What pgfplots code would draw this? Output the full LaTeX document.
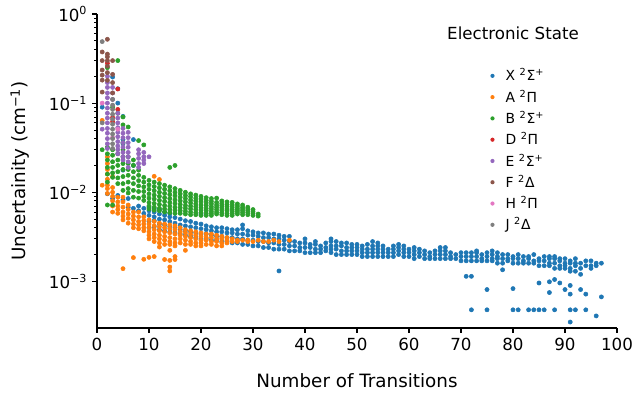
\documentclass[border=0pt]{standalone}
\usepackage{fontspec}
\setmainfont{DejaVu Sans}
\usepackage{pgfplots}
\pgfplotsset{compat=1.18}
\definecolor{cX}{HTML}{1F77B4}
\definecolor{cA}{HTML}{FF7F0E}
\definecolor{cB}{HTML}{2CA02C}
\definecolor{cD}{HTML}{D62728}
\definecolor{cE}{HTML}{9467BD}
\definecolor{cF}{HTML}{8C564B}
\definecolor{cH}{HTML}{E377C2}
\definecolor{cJ}{HTML}{7F7F7F}
\begin{document}
\begin{tikzpicture}
\begin{axis}[
 at={(0,0)}, anchor=south west,
 scale only axis, width=374.4pt, height=226.1pt,
 xmin=0, xmax=100, ymin=3e-4, ymax=1, ymode=log,
 axis x line*=bottom, axis y line*=left,
 axis line style={line width=0.8pt},
 tick align=outside,
 major tick length=3.5pt, minor tick length=2pt,
 major tick style={black, line width=0.8pt},
 minor tick style={black, line width=0.6pt},
 xtick={0,10,...,100},
 xticklabels={0,10,20,30,40,50,60,70,80,90,100},
 ytick={1e-3,1e-2,1e-1,1},
 yticklabels={10\textsuperscript{−3},10\textsuperscript{−2},10\textsuperscript{−1},10\textsuperscript{0}},
 tick label style={font=\fontsize{12}{14}\selectfont},
 xlabel={Number of Transitions},
 ylabel={Uncertainity (cm\textsuperscript{−1})},
 label style={font=\fontsize{13.2}{15}\selectfont},
 xlabel style={at={(axis description cs:0.5,-0.169)}, anchor=center},
 ylabel style={at={(axis description cs:-0.148,0.5)}, anchor=center},
 legend style={at={(axis description cs:0.7444,0.84)}, anchor=north west, draw=none, fill=none,
   font=\fontsize{10}{12}\selectfont, row sep=3pt, nodes={inner sep=1pt}},
 legend cell align=left,
 legend image code/.code={\path[draw=none,fill=none] (0cm,-0.05cm) rectangle (0.4cm,0.05cm);
   \fill[#1,mark=none,draw=none] (0.1cm,0cm) circle[radius=1.5pt];},
 every axis plot/.append style={only marks, mark=*, mark size=1.5pt},
]
\addplot[cX] table[row sep=\\] {x y\\
1 0.090\\3 0.196\\4 0.145\\4 0.100\\5 0.071\\5 0.039\\5 0.035\\7 0.039\\5 0.0177\\7 0.020\\2 0.0096\\3 0.0085\\4 0.0092\\5 0.0082\\6 0.0068\\6 0.0085\\7 0.0066\\8 0.0070\\8 0.0062\\9 0.0066\\9 0.0058\\
10 0.0040\\10 0.0047\\10 0.0055\\10 0.0062\\10 0.0068\\
11 0.0041\\11 0.0048\\11 0.0053\\11 0.0060\\11 0.0066\\
12 0.0038\\12 0.0044\\12 0.0050\\12 0.0057\\12 0.0064\\
13 0.0037\\13 0.0043\\13 0.0049\\13 0.0055\\13 0.0060\\
14 0.0036\\14 0.0041\\14 0.0047\\14 0.0053\\14 0.0058\\
15 0.0035\\15 0.0040\\15 0.0045\\15 0.0052\\
16 0.0034\\16 0.0038\\16 0.0043\\16 0.0050\\
17 0.0033\\17 0.0037\\17 0.0042\\17 0.0048\\
18 0.0032\\18 0.0036\\18 0.0041\\18 0.0047\\
19 0.0031\\19 0.0035\\19 0.0040\\19 0.0045\\
20 0.0030\\20 0.0034\\20 0.0039\\20 0.0044\\20 0.0057\\
21 0.0030\\21 0.0034\\21 0.0038\\21 0.0042\\
22 0.0029\\22 0.0033\\22 0.0037\\22 0.0041\\
23 0.0029\\23 0.0032\\23 0.0036\\23 0.0040\\
24 0.0028\\24 0.0032\\24 0.0036\\24 0.0040\\
25 0.0028\\25 0.0031\\25 0.0035\\25 0.0039\\
26 0.0027\\26 0.0031\\26 0.0035\\26 0.0038\\
27 0.0027\\27 0.0030\\27 0.0034\\27 0.0038\\
28 0.0026\\28 0.0030\\28 0.0034\\28 0.0039\\28 0.0043\\
29 0.0026\\29 0.0029\\29 0.0033\\29 0.0037\\
30 0.0025\\30 0.0029\\30 0.0033\\30 0.0036\\
31 0.0025\\31 0.0028\\31 0.0032\\31 0.0035\\
32 0.0024\\32 0.0028\\32 0.0031\\32 0.0035\\
33 0.0024\\33 0.0027\\33 0.0031\\33 0.0034\\
34 0.0023\\34 0.0027\\34 0.0030\\34 0.0034\\
35 0.0023\\35 0.0026\\35 0.0030\\35 0.0033\\35 0.00131\\
36 0.0023\\36 0.0026\\36 0.0029\\36 0.0032\\
37 0.0022\\37 0.0025\\37 0.0028\\37 0.0032\\
38 0.0022\\38 0.0025\\38 0.0028\\
39 0.0022\\39 0.0024\\39 0.0027\\
40 0.0021\\40 0.0024\\40 0.0027\\40 0.0030\\
41 0.0021\\41 0.0024\\41 0.0026\\
42 0.0021\\42 0.0023\\42 0.0026\\42 0.0028\\
43 0.0021\\43 0.0023\\43 0.0025\\
44 0.0022\\44 0.0024\\44 0.0027\\
45 0.0021\\45 0.0023\\45 0.0025\\45 0.0028\\45 0.0030\\
46 0.0020\\46 0.0023\\46 0.0025\\46 0.0028\\
47 0.0020\\47 0.0022\\47 0.0025\\47 0.0027\\
48 0.0020\\48 0.0022\\48 0.0024\\48 0.0027\\
49 0.0020\\49 0.0022\\49 0.0024\\49 0.0026\\
50 0.0020\\50 0.0022\\50 0.0024\\50 0.0026\\
51 0.0019\\51 0.0021\\51 0.0023\\51 0.0025\\
52 0.0019\\52 0.0021\\52 0.0023\\52 0.0026\\
53 0.0019\\53 0.0021\\53 0.0023\\53 0.0025\\53 0.0028\\
54 0.0019\\54 0.0021\\54 0.0023\\54 0.0025\\54 0.0027\\
55 0.0019\\55 0.0021\\55 0.0023\\55 0.0025\\
56 0.0019\\56 0.0021\\56 0.0023\\
57 0.0019\\57 0.0021\\57 0.0023\\57 0.0025\\
58 0.0020\\58 0.0022\\58 0.0024\\58 0.0026\\
59 0.0019\\59 0.0021\\59 0.0023\\59 0.0025\\
60 0.0019\\60 0.0021\\60 0.0023\\
61 0.0018\\61 0.0020\\61 0.0022\\61 0.0024\\
62 0.0019\\62 0.0021\\62 0.0023\\
63 0.0018\\63 0.0020\\63 0.0022\\
64 0.0018\\64 0.0019\\64 0.0021\\
65 0.0018\\65 0.0020\\65 0.0022\\
66 0.0018\\66 0.0020\\66 0.0022\\66 0.0024\\
67 0.0018\\67 0.0020\\67 0.0022\\67 0.0024\\
68 0.0018\\68 0.0019\\68 0.0021\\
69 0.0018\\69 0.0020\\
70 0.0017\\70 0.0019\\70 0.0021\\
71 0.0017\\71 0.0019\\71 0.0021\\71 0.00114\\
72 0.0017\\72 0.0019\\72 0.0021\\72 0.00114\\72 0.00048\\
73 0.0017\\73 0.0019\\73 0.0021\\73 0.0022\\
74 0.0017\\74 0.0018\\74 0.0020\\
75 0.0017\\75 0.0019\\75 0.0021\\75 0.00081\\75 0.00048\\
76 0.0017\\76 0.0018\\76 0.0020\\76 0.0022\\
77 0.0016\\77 0.0018\\77 0.0019\\77 0.0021\\
78 0.0016\\78 0.0018\\78 0.0020\\78 0.00135\\
79 0.0017\\79 0.0018\\79 0.0020\\
80 0.0016\\80 0.0018\\80 0.0019\\80 0.00083\\80 0.00048\\
81 0.0016\\81 0.0018\\81 0.0020\\81 0.00048\\
82 0.0016\\82 0.0017\\82 0.0019\\
83 0.0016\\83 0.0018\\83 0.0019\\83 0.00048\\
84 0.0016\\84 0.0017\\84 0.0020\\84 0.00048\\
85 0.0015\\85 0.0017\\85 0.0018\\85 0.00096\\85 0.00048\\
86 0.0015\\86 0.0017\\86 0.0019\\86 0.00048\\
87 0.0015\\87 0.0016\\87 0.0018\\87 0.0019\\87 0.00099\\87 0.00075\\
88 0.0014\\88 0.0016\\88 0.0018\\88 0.0019\\88 0.00105\\88 0.00048\\
89 0.0014\\89 0.0015\\89 0.0017\\89 0.0018\\89 0.00096\\
90 0.0014\\90 0.0015\\90 0.0016\\90 0.0018\\90 0.00081\\
91 0.0013\\91 0.0014\\91 0.0016\\91 0.0017\\91 0.00090\\91 0.00072\\91 0.00048\\91 0.00035\\
92 0.0013\\92 0.0015\\92 0.0016\\92 0.0018\\92 0.00048\\
93 0.0012\\93 0.0014\\93 0.0016\\93 0.00081\\
94 0.0015\\94 0.0017\\94 0.00072\\94 0.00048\\
95 0.0014\\95 0.0015\\95 0.0017\\
96 0.0015\\96 0.0016\\96 0.00041\\
97 0.0016\\97 0.00067\\
};
\addlegendentry{X \textsuperscript{2}Σ\textsuperscript{+}}
\addplot[cA] table[row sep=\\] {x y\\
1 0.064\\1 0.012\\
2 0.025\\2 0.021\\2 0.018\\2 0.016\\2 0.014\\2 0.012\\2 0.011\\2 0.0097\\
3 0.015\\3 0.0113\\3 0.0100\\3 0.0090\\3 0.0080\\3 0.0070\\3 0.0060\\
4 0.0088\\4 0.0078\\4 0.0070\\4 0.0064\\4 0.0058\\
5 0.0088\\5 0.0078\\5 0.0068\\5 0.0060\\5 0.0054\\5 0.0049\\5 0.00139\\
6 0.0072\\6 0.0064\\6 0.0057\\6 0.0051\\6 0.0045\\
7 0.0060\\7 0.0054\\7 0.0049\\7 0.0044\\7 0.0040\\7 0.00185\\
8 0.0060\\8 0.0053\\8 0.0047\\8 0.0043\\8 0.0039\\
9 0.0053\\9 0.0048\\9 0.0044\\9 0.0040\\9 0.0037\\9 0.00177\\
10 0.0049\\10 0.0044\\10 0.0040\\10 0.0036\\10 0.0033\\10 0.0030\\10 0.00186\\
11 0.0151\\11 0.0047\\11 0.0042\\11 0.0038\\11 0.0034\\11 0.0031\\11 0.0028\\11 0.0019\\
12 0.0139\\12 0.0045\\12 0.0041\\12 0.0037\\12 0.0033\\12 0.0030\\12 0.0027\\12 0.00243\\
13 0.0044\\13 0.0040\\13 0.0036\\13 0.0032\\13 0.0029\\13 0.0026\\13 0.00176\\
14 0.0043\\14 0.0039\\14 0.0035\\14 0.0031\\14 0.0028\\14 0.0026\\14 0.00223\\14 0.00172\\14 0.00145\\14 0.00131\\
15 0.0042\\15 0.0038\\15 0.0034\\15 0.0030\\15 0.0027\\15 0.0025\\15 0.0019\\15 0.00176\\
16 0.0040\\16 0.0036\\16 0.0033\\16 0.0030\\16 0.0027\\
17 0.0038\\17 0.0035\\17 0.0032\\17 0.0029\\17 0.0026\\17 0.00223\\
18 0.0037\\18 0.0034\\18 0.0031\\18 0.0028\\18 0.0026\\
19 0.0036\\19 0.0033\\19 0.0030\\19 0.0027\\19 0.0025\\
20 0.0035\\20 0.0032\\20 0.0029\\20 0.0027\\20 0.0025\\
21 0.0034\\21 0.0031\\21 0.0029\\21 0.0026\\
22 0.0034\\22 0.0031\\22 0.0028\\22 0.0026\\
23 0.0033\\23 0.0030\\23 0.0028\\23 0.0025\\
24 0.0032\\24 0.0030\\24 0.0027\\24 0.0025\\
25 0.0031\\25 0.0029\\25 0.0027\\
26 0.0030\\26 0.0028\\27 0.0029\\27 0.0028\\28 0.0029\\29 0.0029\\29 0.0028\\30 0.0028\\31 0.0029\\32 0.0028\\33 0.0028\\34 0.0029\\35 0.0028\\37 0.0029\\
};
\addlegendentry{A \textsuperscript{2}Π}
\addplot[cB] table[row sep=\\] {x y\\
1 0.030\\
2 0.25\\2 0.032\\2 0.027\\2 0.023\\2 0.019\\2 0.016\\2 0.013\\2 0.0072\\
3 0.090\\3 0.030\\3 0.026\\3 0.022\\3 0.019\\3 0.0165\\3 0.0147\\3 0.0072\\
4 0.30\\4 0.077\\4 0.027\\4 0.023\\4 0.020\\4 0.017\\4 0.0145\\4 0.0125\\
5 0.070\\5 0.057\\5 0.036\\5 0.030\\5 0.025\\5 0.021\\5 0.018\\5 0.015\\5 0.0125\\5 0.0105\\
6 0.054\\6 0.025\\6 0.021\\6 0.018\\6 0.0155\\6 0.013\\6 0.011\\6 0.0098\\
7 0.023\\7 0.020\\7 0.017\\7 0.0145\\7 0.0125\\7 0.0105\\7 0.0088\\
8 0.038\\8 0.0177\\8 0.0155\\8 0.0135\\8 0.0118\\8 0.0102\\8 0.0086\\
9 0.034\\9 0.0147\\9 0.013\\9 0.0115\\9 0.0102\\9 0.0090\\9 0.0081\\
10 0.0136\\10 0.0121\\10 0.0108\\10 0.0096\\10 0.0086\\10 0.0077\\10 0.0070\\10 0.0065\\
11 0.0130\\11 0.0116\\11 0.0104\\11 0.0093\\11 0.0084\\11 0.0075\\11 0.0068\\11 0.0063\\
12 0.0125\\12 0.0112\\12 0.0100\\12 0.0090\\12 0.0081\\12 0.0073\\12 0.0066\\12 0.0062\\
13 0.0120\\13 0.0108\\13 0.0097\\13 0.0087\\13 0.0079\\13 0.0071\\13 0.0065\\13 0.0060\\
14 0.019\\14 0.0115\\14 0.0104\\14 0.0094\\14 0.0085\\14 0.0077\\14 0.0070\\14 0.0064\\14 0.0059\\
15 0.020\\15 0.0110\\15 0.0100\\15 0.0091\\15 0.0082\\15 0.0075\\15 0.0068\\15 0.0063\\15 0.0058\\
16 0.0105\\16 0.0096\\16 0.0088\\16 0.0080\\16 0.0073\\16 0.0067\\16 0.0062\\16 0.0058\\
17 0.0100\\17 0.0092\\17 0.0085\\17 0.0078\\17 0.0071\\17 0.0066\\17 0.0061\\17 0.0057\\
18 0.0096\\18 0.0089\\18 0.0082\\18 0.0076\\18 0.0070\\18 0.0065\\18 0.0060\\18 0.0056\\
19 0.0093\\19 0.0086\\19 0.0080\\19 0.0074\\19 0.0069\\19 0.0064\\19 0.0059\\19 0.0056\\
20 0.0090\\20 0.0084\\20 0.0078\\20 0.0072\\20 0.0067\\20 0.0063\\20 0.0059\\20 0.0055\\
21 0.0087\\21 0.0081\\21 0.0076\\21 0.0071\\21 0.0066\\21 0.0062\\21 0.0058\\21 0.0055\\
22 0.0085\\22 0.0079\\22 0.0074\\22 0.0069\\22 0.0065\\22 0.0061\\22 0.0058\\22 0.0055\\
23 0.0086\\23 0.0077\\23 0.0072\\23 0.0068\\23 0.0064\\23 0.0060\\23 0.0057\\
24 0.0080\\24 0.0075\\24 0.0071\\24 0.0067\\24 0.0063\\24 0.0059\\24 0.0056\\
25 0.0078\\25 0.0073\\25 0.0069\\25 0.0065\\25 0.0062\\25 0.0058\\25 0.0055\\
26 0.0077\\26 0.0072\\26 0.0068\\26 0.0064\\26 0.0061\\26 0.0058\\26 0.0055\\
27 0.0074\\27 0.0070\\27 0.0066\\27 0.0063\\27 0.0060\\27 0.0057\\
28 0.0072\\28 0.0068\\28 0.0065\\28 0.0062\\28 0.0059\\28 0.0056\\
29 0.0068\\29 0.0065\\29 0.0062\\29 0.0059\\29 0.0056\\
30 0.0064\\30 0.0061\\30 0.0058\\30 0.0055\\
31 0.0057\\31 0.0054\\
};
\addlegendentry{B \textsuperscript{2}Σ\textsuperscript{+}}
\addplot[cD] table[row sep=\\] {x y\\
2 0.28\\3 0.069\\3 0.062\\4 0.144\\4 0.085\\
};
\addlegendentry{D \textsuperscript{2}Π}
\addplot[cE] table[row sep=\\] {x y\\
1 0.051\\
2 0.20\\2 0.17\\2 0.15\\2 0.13\\2 0.115\\2 0.10\\2 0.088\\2 0.077\\2 0.068\\2 0.060\\2 0.052\\2 0.046\\2 0.040\\2 0.035\\2 0.031\\
3 0.15\\3 0.13\\3 0.11\\
4 0.077\\4 0.068\\4 0.060\\4 0.053\\4 0.047\\4 0.042\\4 0.037\\4 0.033\\4 0.030\\4 0.027\\
5 0.052\\5 0.046\\5 0.041\\5 0.036\\5 0.032\\5 0.028\\5 0.025\\5 0.023\\
6 0.047\\6 0.041\\6 0.036\\6 0.032\\6 0.028\\6 0.025\\6 0.022\\6 0.019\\
8 0.030\\8 0.027\\8 0.024\\8 0.021\\8 0.019\\
9 0.028\\9 0.025\\9 0.023\\9 0.021\\
10 0.025\\
};
\addlegendentry{E \textsuperscript{2}Σ\textsuperscript{+}}
\addplot[cF] table[row sep=\\] {x y\\
1 0.375\\1 0.30\\1 0.235\\1 0.206\\1 0.181\\1 0.133\\
2 0.52\\2 0.355\\2 0.33\\2 0.30\\2 0.26\\2 0.22\\2 0.18\\
3 0.30\\3 0.21\\3 0.17\\3 0.13\\
};
\addlegendentry{F \textsuperscript{2}Δ}
\addplot[cH] table[row sep=\\] {x y\\
1 0.100\\3 0.041\\4 0.051\\
};
\addlegendentry{H \textsuperscript{2}Π}
\addplot[cJ] table[row sep=\\] {x y\\
1 0.49\\1 0.060\\
3 0.11\\3 0.095\\3 0.085\\3 0.075\\3 0.066\\3 0.058\\3 0.051\\3 0.045\\3 0.040\\3 0.035\\3 0.031\\
};
\addlegendentry{J \textsuperscript{2}Δ}
\node[font=\fontsize{12}{14}\selectfont] at (axis description cs:0.80,0.939) {Electronic State};
\end{axis}
\pgfresetboundingbox
\path (-69.84pt,-48.24pt) rectangle (388.08pt,236.16pt);
\end{tikzpicture}
\end{document}
